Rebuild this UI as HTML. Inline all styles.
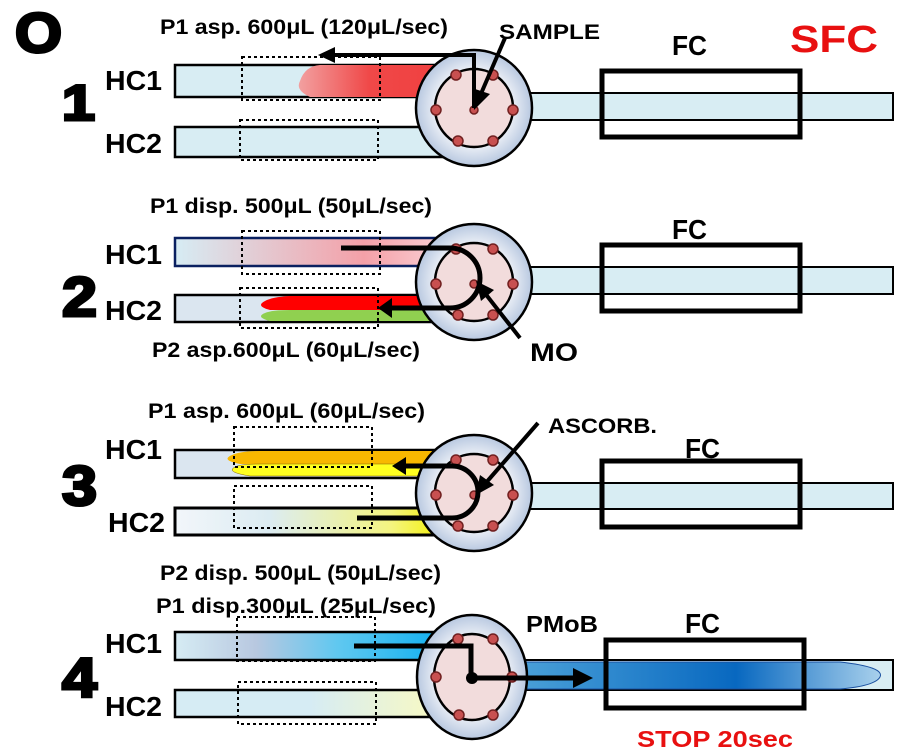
<!DOCTYPE html>
<html><head><meta charset="utf-8"><style>
html,body{margin:0;padding:0;background:#fff;}
svg{display:block;}
text{font-family:"Liberation Sans",sans-serif;font-weight:bold;}
.big{stroke:#000;stroke-width:3;}
</style></head><body>
<svg width="911" height="754" viewBox="0 0 911 754" xmlns="http://www.w3.org/2000/svg">
<defs>
<radialGradient id="vg" cx="50%" cy="50%" r="50%"><stop offset="0.6" stop-color="#f4f6fa"/><stop offset="1" stop-color="#b8c8e0"/></radialGradient>
<linearGradient id="red1" x1="0" x2="1"><stop offset="0" stop-color="#f2a0a0"/><stop offset="0.5" stop-color="#f04848"/><stop offset="1" stop-color="#f04040"/></linearGradient>
<linearGradient id="pink2" x1="0" x2="1"><stop offset="0" stop-color="#d6ecf4"/><stop offset="0.7" stop-color="#f4a0a8"/><stop offset="1" stop-color="#fad0d4"/></linearGradient>
<linearGradient id="yel3" x1="0" x2="1"><stop offset="0" stop-color="#f2f6fa"/><stop offset="0.35" stop-color="#dcecf2"/><stop offset="0.8" stop-color="#f4f480"/><stop offset="1" stop-color="#f4f000"/></linearGradient>
<linearGradient id="blu4" x1="0" x2="1"><stop offset="0" stop-color="#d6ecf4"/><stop offset="0.3" stop-color="#b8c8e0"/><stop offset="0.6" stop-color="#60c8f0"/><stop offset="1" stop-color="#10b0f0"/></linearGradient>
<linearGradient id="yel4" x1="0" x2="1"><stop offset="0" stop-color="#d6ecf4"/><stop offset="0.5" stop-color="#d6ecf4"/><stop offset="1" stop-color="#fafac0"/></linearGradient>
<linearGradient id="bl4" x1="0" x2="1"><stop offset="0" stop-color="#4aa0d8"/><stop offset="0.6" stop-color="#0868c0"/><stop offset="1" stop-color="#a8d0ec"/></linearGradient>
<g id="base">
  <rect x="175" y="65" width="270" height="32" fill="#d8edf3" stroke="#000" stroke-width="2.5"/>
  <rect x="175" y="127" width="270" height="30" fill="#d8edf3" stroke="#000" stroke-width="2.5"/>
  <rect x="525" y="93" width="368" height="27" fill="#d8edf3" stroke="#000" stroke-width="2"/>
</g>
<g id="valve">
  <circle cx="474" cy="108" r="58" fill="url(#vg)" stroke="#000" stroke-width="2.5"/>
  <circle cx="474" cy="108" r="39" fill="#f2dcdc" stroke="#000" stroke-width="2.5"/>
  <g fill="#c85050" stroke="#702020" stroke-width="1.5">
    <circle cx="456" cy="75" r="5"/><circle cx="493" cy="75" r="5"/>
    <circle cx="436" cy="110" r="5"/><circle cx="513" cy="110" r="5"/>
    <circle cx="458" cy="141" r="5"/><circle cx="493" cy="141" r="5"/>
    <circle cx="474" cy="110" r="4"/>
  </g>
</g>
<g id="fc"><rect x="602" y="71" width="198" height="66" fill="none" stroke="#000" stroke-width="5"/></g>
<g id="dots">
  <rect x="242" y="57" width="138" height="43" fill="none" stroke="#000" stroke-width="2" stroke-dasharray="3,3"/>
  <rect x="240" y="120" width="138" height="40" fill="none" stroke="#000" stroke-width="2" stroke-dasharray="3,3"/>
</g>
</defs>

<text x="15" y="52" font-size="56" class="big" textLength="47" lengthAdjust="spacingAndGlyphs">O</text>
<text x="790" y="52" font-size="38" fill="#e81010" textLength="88" lengthAdjust="spacingAndGlyphs">SFC</text>

<!-- Panel 1 -->
<use href="#base"/>
<path d="M440,65 L440,97 L310,97 Q295,90 300,81 Q305,66 320,65 Z" fill="url(#red1)"/>
<use href="#valve"/>
<use href="#fc"/>
<use href="#dots"/>
<polyline points="474,108 474,55 330,55" fill="none" stroke="#000" stroke-width="4"/>
<path d="M318,55 L335,47 L335,63 Z"/>
<line x1="505" y1="38" x2="480" y2="96" stroke="#000" stroke-width="4"/>
<path d="M474,110 L472,88 L490,94 Z"/>
<text x="160" y="34" font-size="21" textLength="288" lengthAdjust="spacingAndGlyphs">P1 asp. 600μL (120μL/sec)</text>
<text x="499" y="39" font-size="21" textLength="101" lengthAdjust="spacingAndGlyphs">SAMPLE</text>
<text x="672" y="55" font-size="28" textLength="35" lengthAdjust="spacingAndGlyphs">FC</text>
<text x="105" y="90" font-size="28" textLength="57" lengthAdjust="spacingAndGlyphs">HC1</text>
<text x="105" y="153" font-size="28" textLength="57" lengthAdjust="spacingAndGlyphs">HC2</text>
<text x="62" y="120" font-size="50" class="big" textLength="33" lengthAdjust="spacingAndGlyphs">1</text>

<!-- Panel 2 -->
<g transform="translate(0,174)">
<rect x="525" y="93" width="368" height="27" fill="#d8edf3" stroke="#000" stroke-width="2"/>
<rect x="175" y="64" width="270" height="28" fill="url(#pink2)" stroke="#0a2060" stroke-width="2.5"/>
<rect x="175" y="121" width="270" height="27" fill="#dbe6f0" stroke="#000" stroke-width="2.5"/>
<path d="M440,122 L440,136 L270,136 Q255,132 265,127 Q272,123 290,122 Z" fill="#ff0000"/>
<path d="M440,136 L440,147 L270,147 Q255,143 265,139 Q272,136 290,136 Z" fill="#90d050"/>
<use href="#valve"/>
<use href="#fc"/>
<rect x="242" y="57" width="138" height="43" fill="none" stroke="#000" stroke-width="2" stroke-dasharray="3,3"/>
<rect x="240" y="114" width="138" height="40" fill="none" stroke="#000" stroke-width="2" stroke-dasharray="3,3"/>
<path d="M341,74 L450,74 A30,30 0 0 1 450,134 L390,134" fill="none" stroke="#000" stroke-width="5"/>
<path d="M378,134 L392,124 L392,144 Z"/>
<line x1="520" y1="164" x2="484" y2="118" stroke="#000" stroke-width="4"/>
<path d="M476,107 L494,116 L481,127 Z"/>
<text x="672" y="65" font-size="28" textLength="35" lengthAdjust="spacingAndGlyphs">FC</text>
<text x="105" y="90" font-size="28" textLength="57" lengthAdjust="spacingAndGlyphs">HC1</text>
<text x="105" y="146" font-size="28" textLength="57" lengthAdjust="spacingAndGlyphs">HC2</text>
<text x="62" y="142" font-size="56" class="big" textLength="35" lengthAdjust="spacingAndGlyphs">2</text>
</g>
<text x="150" y="213" font-size="21" textLength="282" lengthAdjust="spacingAndGlyphs">P1 disp. 500μL (50μL/sec)</text>
<text x="152" y="357" font-size="21" textLength="268" lengthAdjust="spacingAndGlyphs">P2 asp.600μL (60μL/sec)</text>
<text x="530" y="361" font-size="25" textLength="48" lengthAdjust="spacingAndGlyphs">MO</text>

<!-- Panel 3 -->
<g transform="translate(0,385)">
<rect x="175" y="65" width="270" height="28" fill="#dbe6f0" stroke="#000" stroke-width="2.5"/>
<rect x="175" y="123" width="270" height="27" fill="url(#yel3)" stroke="#000" stroke-width="3"/>
<rect x="525" y="98" width="368" height="26" fill="#d8edf3" stroke="#000" stroke-width="2"/>
<path d="M440,66 L440,79 L240,79 Q220,75 232,70 Q240,66 260,66 Z" fill="#f8b800"/>
<path d="M440,79 L440,91 L250,91 Q225,87 235,82 Q240,79 260,79 Z" fill="#ffff20" stroke="#806000" stroke-width="0.5"/>
<use href="#valve"/>
<rect x="602" y="76" width="198" height="66" fill="none" stroke="#000" stroke-width="5"/>
<rect x="234" y="42" width="138" height="40" fill="none" stroke="#000" stroke-width="2" stroke-dasharray="3,3"/>
<rect x="234" y="101" width="138" height="42" fill="none" stroke="#000" stroke-width="2" stroke-dasharray="3,3"/>
<path d="M357,133 L452,133 A26,26 0 0 0 452,81 L405,81" fill="none" stroke="#000" stroke-width="5"/>
<path d="M392,81 L406,72 L406,90 Z"/>
<line x1="538" y1="38" x2="484" y2="100" stroke="#000" stroke-width="4"/>
<path d="M476,110 L480,90 L494,100 Z"/>
<text x="685" y="73" font-size="28" textLength="35" lengthAdjust="spacingAndGlyphs">FC</text>
<text x="105" y="74" font-size="28" textLength="57" lengthAdjust="spacingAndGlyphs">HC1</text>
<text x="108" y="147" font-size="28" textLength="57" lengthAdjust="spacingAndGlyphs">HC2</text>
<text x="62" y="120" font-size="56" class="big" textLength="35" lengthAdjust="spacingAndGlyphs">3</text>
</g>
<text x="148" y="418" font-size="21" textLength="277" lengthAdjust="spacingAndGlyphs">P1 asp. 600μL (60μL/sec)</text>
<text x="548" y="433" font-size="21" textLength="109" lengthAdjust="spacingAndGlyphs">ASCORB.</text>
<text x="160" y="580" font-size="21" textLength="281" lengthAdjust="spacingAndGlyphs">P2 disp. 500μL (50μL/sec)</text>

<!-- Panel 4 -->
<g transform="translate(0,569)">
<rect x="175" y="63" width="270" height="28" fill="url(#blu4)" stroke="#000" stroke-width="2.5"/>
<rect x="175" y="121" width="270" height="27" fill="url(#yel4)" stroke="#000" stroke-width="2.5"/>
<rect x="525" y="91" width="368" height="30" fill="#d8edf3" stroke="#000" stroke-width="2"/>
<path d="M520,93 L840,93 Q885,98 880,108 Q875,117 840,120 L520,120 Z" fill="url(#bl4)" stroke="#1a50a0" stroke-width="1"/>
<ellipse cx="472" cy="108" rx="55" ry="62" fill="url(#vg)" stroke="#000" stroke-width="2.5"/>
<ellipse cx="472" cy="108" rx="38" ry="43" fill="#f2dcdc" stroke="#000" stroke-width="2.5"/>
<g fill="#c85050" stroke="#702020" stroke-width="1.5">
  <circle cx="458" cy="70" r="5"/><circle cx="493" cy="70" r="5"/>
  <circle cx="436" cy="108" r="5"/><circle cx="512" cy="108" r="5"/>
  <circle cx="459" cy="146" r="5"/><circle cx="493" cy="146" r="5"/>
</g>
<rect x="606" y="71" width="198" height="68" fill="none" stroke="#000" stroke-width="5"/>
<rect x="237" y="48" width="138" height="44" fill="none" stroke="#000" stroke-width="2" stroke-dasharray="3,3"/>
<rect x="238" y="113" width="138" height="42" fill="none" stroke="#000" stroke-width="2" stroke-dasharray="3,3"/>
<polyline points="354,77 471,77 471,109 580,109" fill="none" stroke="#000" stroke-width="5"/>
<circle cx="472" cy="109" r="6"/>
<path d="M593,109 L573,99 L573,119 Z"/>
<text x="685" y="64" font-size="28" textLength="35" lengthAdjust="spacingAndGlyphs">FC</text>
<text x="105" y="84" font-size="28" textLength="57" lengthAdjust="spacingAndGlyphs">HC1</text>
<text x="105" y="147" font-size="28" textLength="57" lengthAdjust="spacingAndGlyphs">HC2</text>
<text x="62" y="128" font-size="56" class="big" textLength="35" lengthAdjust="spacingAndGlyphs">4</text>
</g>
<text x="156" y="613" font-size="21" textLength="280" lengthAdjust="spacingAndGlyphs">P1 disp.300μL (25μL/sec)</text>
<text x="526" y="632" font-size="23" textLength="72" lengthAdjust="spacingAndGlyphs">PMoB</text>
<text x="637" y="747" font-size="23" fill="#e81010" textLength="156" lengthAdjust="spacingAndGlyphs">STOP 20sec</text>
</svg>
</body></html>
